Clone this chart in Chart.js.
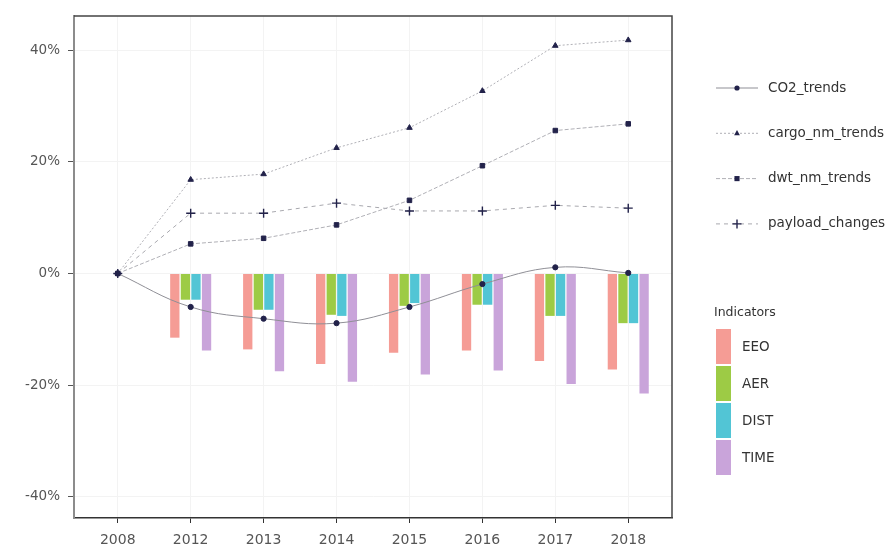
<!DOCTYPE html>
<html>
<head>
<meta charset="utf-8">
<script src="https://cdn.jsdelivr.net/npm/chart.js@4.4.1/dist/chart.umd.min.js"></script>
<style>
html,body{margin:0;padding:0;background:#fff;}
#wrap{width:892px;height:550px;position:relative;}
</style>
</head>
<body>
<div id="wrap"><canvas id="c"></canvas></div>
<script>
// ---- data ----
const years = ['2008', '2012', '2013', '2014', '2015', '2016', '2017', '2018'];
const yTicks = [-40, -20, 0, 20, 40];

const co2Trends      = [0, -6.0, -8.1, -8.9, -6.0, -1.9, 1.1, 0.1];
const cargoNmTrends  = [0, 16.8, 17.8, 22.5, 26.1, 32.7, 40.8, 41.8];
const dwtNmTrends    = [0, 5.3, 6.3, 8.7, 13.1, 19.3, 25.6, 26.8];
const payloadChanges = [0, 10.8, 10.8, 12.6, 11.2, 11.2, 12.2, 11.7];

const eeo  = [null, -11.5, -13.6, -16.2, -14.2, -13.8, -15.7, -17.2];
const aer  = [null, -4.7, -6.5, -7.4, -5.8, -5.6, -7.6, -8.9];
const dist = [null, -4.7, -6.5, -7.6, -5.3, -5.6, -7.6, -8.9];
const time = [null, -13.8, -17.5, -19.4, -18.1, -17.4, -19.8, -21.5];

// ---- styling ----
const FONT = "'DejaVu Sans', sans-serif";
const POINT_COLOR = '#22224a';
const TEXT_COLOR = '#555555';

const lineSeries = [
  { label: 'CO2_trends',      values: co2Trends,      color: '#8f8f96', dash: [],     shape: 'circle',   r: 2.6, tension: 0.4 },
  { label: 'cargo_nm_trends', values: cargoNmTrends,  color: '#b0b0b6', dash: [2, 2], shape: 'triangle', r: 3.2, tension: 0 },
  { label: 'dwt_nm_trends',   values: dwtNmTrends,    color: '#b0b0b6', dash: [4, 2], shape: 'rect',     r: 3.2, tension: 0 },
  { label: 'payload_changes', values: payloadChanges, color: '#a8a8ae', dash: [4, 4], shape: 'cross',    r: 4.5, tension: 0 }
];
const barSeries = [
  { label: 'EEO',  values: eeo,  color: '#F59C95' },
  { label: 'AER',  values: aer,  color: '#9DCB45' },
  { label: 'DIST', values: dist, color: '#52C5D5' },
  { label: 'TIME', values: time, color: '#C9A4DA' }
];

const toXY = arr => arr.map((v, i) => ({ x: i, y: v })).filter(d => d.y !== null);

const datasets = [];
lineSeries.forEach(s => {
  datasets.push({
    type: 'line',
    label: s.label,
    data: toXY(s.values),
    borderColor: s.color,
    borderWidth: 1,
    borderDash: s.dash,
    tension: s.tension,
    fill: false,
    pointStyle: s.shape,
    pointRadius: s.r,
    pointBackgroundColor: POINT_COLOR,
    pointBorderColor: POINT_COLOR,
    pointBorderWidth: s.shape === 'cross' ? 1.4 : 1,
    order: 0
  });
});
barSeries.forEach(s => {
  datasets.push({
    type: 'bar',
    label: s.label,
    data: toXY(s.values),
    backgroundColor: s.color,
    borderWidth: 0,
    categoryPercentage: 0.58,
    barPercentage: 0.88,
    order: 1
  });
});

function drawShape(ctx, shape, x, y, r) {
  ctx.beginPath();
  if (shape === 'circle') {
    ctx.arc(x, y, r, 0, Math.PI * 2);
    ctx.fill();
  } else if (shape === 'triangle') {
    ctx.moveTo(x, y - r);
    ctx.lineTo(x + r * 0.9, y + r * 0.6);
    ctx.lineTo(x - r * 0.9, y + r * 0.6);
    ctx.closePath();
    ctx.fill();
  } else if (shape === 'rect') {
    ctx.rect(x - r * 0.8, y - r * 0.8, r * 1.6, r * 1.6);
    ctx.fill();
  } else if (shape === 'cross') {
    ctx.lineWidth = 1.4;
    ctx.moveTo(x - r, y); ctx.lineTo(x + r, y);
    ctx.moveTo(x, y - r); ctx.lineTo(x, y + r);
    ctx.stroke();
  }
}

const framePlugin = {
  id: 'frame',
  afterDraw(chart) {
    const { ctx, chartArea: a } = chart;
    ctx.save();
    ctx.strokeStyle = '#444';
    ctx.lineWidth = 1.5;
    ctx.beginPath();
    ctx.moveTo(a.left, a.top);
    ctx.lineTo(a.right, a.top);
    ctx.lineTo(a.right, a.bottom);
    ctx.stroke();
    ctx.restore();
  }
};

const legendPlugin = {
  id: 'customLegend',
  afterDraw(chart) {
    const ctx = chart.ctx;
    ctx.save();
    ctx.font = '13.5px ' + FONT;
    ctx.textBaseline = 'middle';
    ctx.textAlign = 'left';
    // line legend
    lineSeries.forEach((s, i) => {
      const y = 88 + i * 45.3;
      ctx.strokeStyle = s.color;
      ctx.lineWidth = 1;
      ctx.setLineDash(s.dash);
      ctx.beginPath();
      ctx.moveTo(716, y);
      ctx.lineTo(758, y);
      ctx.stroke();
      ctx.setLineDash([]);
      ctx.fillStyle = POINT_COLOR;
      ctx.strokeStyle = POINT_COLOR;
      drawShape(ctx, s.shape, 737, y, s.r);
      ctx.fillStyle = '#333';
      ctx.fillText(s.label, 768, y);
    });
    // bar legend
    ctx.fillStyle = '#333';
    ctx.font = '12.5px ' + FONT;
    ctx.fillText('Indicators', 714, 313);
    ctx.font = '13.5px ' + FONT;
    barSeries.forEach((s, i) => {
      const top = 329 + i * 37;
      ctx.fillStyle = s.color;
      ctx.fillRect(716, top, 15, 35);
      ctx.fillStyle = '#333';
      ctx.fillText(s.label, 742, top + 18);
    });
    ctx.restore();
  }
};

new Chart(document.getElementById('c'), {
  type: 'bar',
  data: { datasets },
  options: {
    responsive: true,
    maintainAspectRatio: false,
    animation: false,
    layout: { padding: { top: 14, right: 220, bottom: 0, left: 0 } },
    plugins: {
      legend: { display: false },
      tooltip: { enabled: false }
    },
    scales: {
      x: {
        type: 'linear',
        min: -0.6,
        max: 7.6,
        offset: false,
        afterBuildTicks: s => { s.ticks = years.map((_, i) => ({ value: i })); },
        afterFit: s => { s.height = 32; },
        ticks: {
          callback: v => years[v],
          font: { family: FONT, size: 14 },
          color: TEXT_COLOR,
          padding: 9,
          autoSkip: false,
          maxRotation: 0
        },
        grid: { color: '#f3f3f3', tickColor: '#333', tickLength: 5, offset: false },
        border: { color: '#333', width: 1.5 }
      },
      y: {
        type: 'linear',
        min: -43.8,
        max: 46.1,
        afterBuildTicks: s => { s.ticks = yTicks.map(v => ({ value: v })); },
        afterFit: s => { s.width = 74; },
        ticks: {
          callback: v => v + '%',
          font: { family: FONT, size: 13.5 },
          color: TEXT_COLOR,
          padding: 8
        },
        grid: { color: '#f3f3f3', tickColor: '#555', tickLength: 6 },
        border: { color: '#8c8c8c', width: 2 }
      }
    }
  },
  plugins: [framePlugin, legendPlugin]
});
</script>
</body>
</html>
